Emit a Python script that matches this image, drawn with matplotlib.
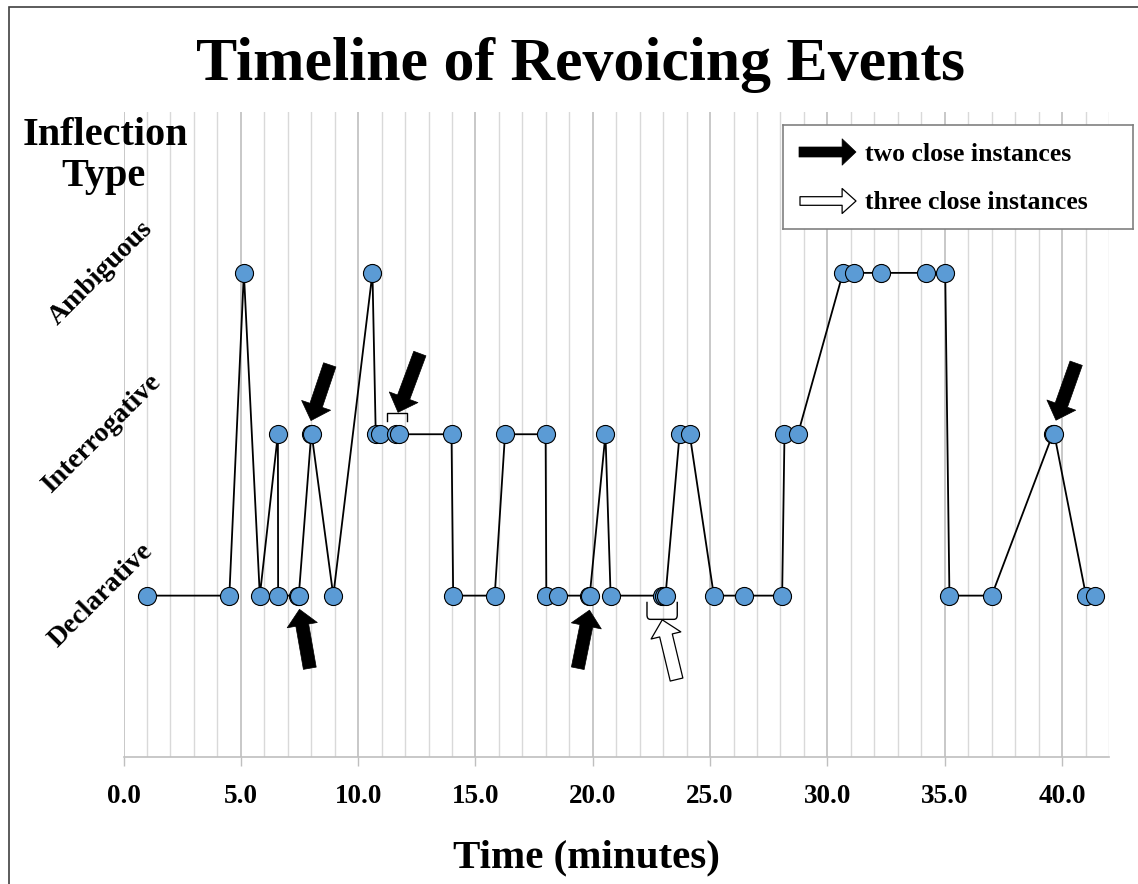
import matplotlib
matplotlib.use('Agg')
import matplotlib.pyplot as plt
from matplotlib.patches import Rectangle
from matplotlib.path import Path
from matplotlib.patches import PathPatch

# ---------------- data ----------------
categories = ['Declarative', 'Interrogative', 'Ambiguous']
times = [0.99, 4.51, 5.13, 5.81, 6.58, 6.59, 7.44, 7.47, 8.00, 8.02, 8.94,
         10.61, 10.75, 10.95, 11.61, 11.72, 13.98, 14.05, 15.82, 16.26, 17.99,
         18.02, 18.52, 19.82, 19.87, 20.54, 20.76, 22.96, 23.03, 23.10, 23.70,
         24.13, 25.16, 26.44, 28.07, 28.17, 28.74, 30.66, 31.12, 32.29, 34.18,
         35.02, 35.20, 37.00, 39.60, 39.67, 41.02, 41.42]
types = ['Declarative', 'Declarative', 'Ambiguous', 'Declarative', 'Interrogative',
         'Declarative', 'Declarative', 'Declarative', 'Interrogative', 'Interrogative',
         'Declarative', 'Ambiguous', 'Interrogative', 'Interrogative', 'Interrogative',
         'Interrogative', 'Interrogative', 'Declarative', 'Declarative', 'Interrogative',
         'Interrogative', 'Declarative', 'Declarative', 'Declarative', 'Declarative',
         'Interrogative', 'Declarative', 'Declarative', 'Declarative', 'Declarative',
         'Interrogative', 'Interrogative', 'Declarative', 'Declarative', 'Declarative',
         'Interrogative', 'Interrogative', 'Ambiguous', 'Ambiguous', 'Ambiguous',
         'Ambiguous', 'Ambiguous', 'Declarative', 'Declarative', 'Interrogative',
         'Interrogative', 'Declarative', 'Declarative']
xtick_values = [0, 5, 10, 15, 20, 25, 30, 35, 40]
xtick_labels = ['0.0', '5.0', '10.0', '15.0', '20.0', '25.0', '30.0', '35.0', '40.0']
legend_labels = ['two close instances', 'three close instances']
# annotation arrows (tail -> tip, in data units)
two_close_arrows = [((8.79, 2.43), (7.99, 2.085)),
                    ((12.63, 2.50), (11.70, 2.136)),
                    ((7.94, 0.55), (7.50, 0.915)),
                    ((19.36, 0.55), (19.86, 0.910)),
                    ((40.60, 2.44), (39.74, 2.087))]
three_close_arrows = [((23.57, 0.48), (22.96, 0.850))]

levels = [categories.index(t) + 1 for t in types]

# ---------------- figure ----------------
plt.rcParams['font.family'] = ['Liberation Serif', 'DejaVu Serif']
plt.rcParams['font.weight'] = 'bold'

W, H = 1138, 884
fig = plt.figure(figsize=(W / 100, H / 100), dpi=100)
ax = fig.add_axes([123.5 / W, 1 - 757 / H, (1109 - 123.5) / W, (757 - 111.5) / H])
ax.set_xlim(0, 42)
ax.set_ylim(0, 4)

# gridlines
ax.set_xticks(xtick_values)
ax.set_xticks([v for v in range(0, 43) if v % 5 != 0], minor=True)
ax.grid(which='minor', axis='x', color='#D9D9D9', lw=1.0, zorder=0)
ax.grid(which='major', axis='x', color='#BFBFBF', lw=1.2, zorder=0)
ax.set_axisbelow(True)
for s in ['top', 'left', 'right']:
    ax.spines[s].set_visible(False)
ax.spines['bottom'].set_color('#BFBFBF')
ax.spines['bottom'].set_linewidth(1.2)
ax.tick_params(axis='x', which='major', length=6.5, width=1.0, color='#BFBFBF',
               pad=13, labelsize=19.5)
ax.tick_params(axis='x', which='minor', length=0)
ax.set_xticklabels(xtick_labels, fontweight='bold')
ax.set_yticks([])

# data
ax.plot(times, levels, color='black', lw=1.3, marker='o', ms=13,
        mfc='#5B9BD5', mec='black', mew=0.8, zorder=3, clip_on=False)

# category labels
for i, c in enumerate(categories):
    ax.text(-0.95, i + 1, c, rotation=45, rotation_mode='anchor', ha='center',
            va='center', fontsize=20, fontweight='bold', clip_on=False)

# arrows
style = 'simple,head_length=1.05,head_width=2.0,tail_width=0.85'
solid = dict(arrowstyle=style, mutation_scale=11, fc='black', ec='black', lw=0.5,
             shrinkA=0, shrinkB=0)
hollow = dict(arrowstyle=style, mutation_scale=11, fc='white', ec='black', lw=0.9,
              shrinkA=0, shrinkB=0)
for tail, tip in two_close_arrows:
    ax.annotate('', xy=tip, xytext=tail, arrowprops=solid, annotation_clip=False,
                zorder=5)
for tail, tip in three_close_arrows:
    ax.annotate('', xy=tip, xytext=tail, arrowprops=hollow, annotation_clip=False,
                zorder=5)

# brackets
ax.plot([11.21, 11.21, 12.07, 12.07], [2.08, 2.132, 2.132, 2.08],
        color='black', lw=1.0, zorder=4)
verts = [(22.31, 0.962), (22.31, 0.88), (22.31, 0.853), (22.45, 0.853),
         (23.46, 0.853), (23.60, 0.853), (23.60, 0.88), (23.60, 0.962)]
codes = [Path.MOVETO, Path.LINETO, Path.CURVE3, Path.CURVE3,
         Path.LINETO, Path.CURVE3, Path.CURVE3, Path.LINETO]
ax.add_patch(PathPatch(Path(verts, codes), fill=False, ec='black', lw=1.0, zorder=4))

# titles
fig.text(580 / W, 1 - 80 / H, 'Timeline of Revoicing Events', ha='center',
         va='baseline', fontsize=44.5, fontweight='bold')
fig.text(105 / W, 1 - 145 / H, 'Inflection', ha='center', va='baseline',
         fontsize=29, fontweight='bold')
fig.text(103 / W, 1 - 186 / H, 'Type', ha='center', va='baseline',
         fontsize=29, fontweight='bold')
fig.text(586 / W, 1 - 867 / H, 'Time (minutes)', ha='center', va='baseline',
         fontsize=29.5, fontweight='bold')

# legend box (separate axes in pixel units, on top)
lx0, ly0, lx1, ly1 = 783, 125, 1133, 229
lax = fig.add_axes([lx0 / W, 1 - ly1 / H, (lx1 - lx0) / W, (ly1 - ly0) / H], zorder=10)
lax.set_xlim(lx0, lx1)
lax.set_ylim(ly1, ly0)
lax.set_xticks([])
lax.set_yticks([])
for s in lax.spines.values():
    s.set_color('#808080')
    s.set_linewidth(1.2)
leg_solid = dict(arrowstyle='simple,head_length=1.0,head_width=1.9,tail_width=0.72',
                 mutation_scale=10, fc='black', ec='black', lw=0.5,
                 shrinkA=0, shrinkB=0)
leg_hollow = dict(arrowstyle='simple,head_length=1.0,head_width=1.8,tail_width=0.62',
                  mutation_scale=10, fc='white', ec='black', lw=0.9,
                  shrinkA=0, shrinkB=0)
lax.annotate('', xy=(856, 152), xytext=(799, 152), arrowprops=leg_solid)
lax.annotate('', xy=(856, 201), xytext=(800, 201), arrowprops=leg_hollow)
lax.text(865, 161, legend_labels[0], ha='left', va='baseline',
         fontsize=18.5, fontweight='bold')
lax.text(865, 209, legend_labels[1], ha='left', va='baseline',
         fontsize=18.5, fontweight='bold')

# outer frame
fig.patches.append(Rectangle((9 / W, -0.1), 1.2, 1.1 - 7 / H, transform=fig.transFigure,
                             fill=False, ec='#404040', lw=1.2, zorder=0))

fig.savefig('out.png', dpi=100)
